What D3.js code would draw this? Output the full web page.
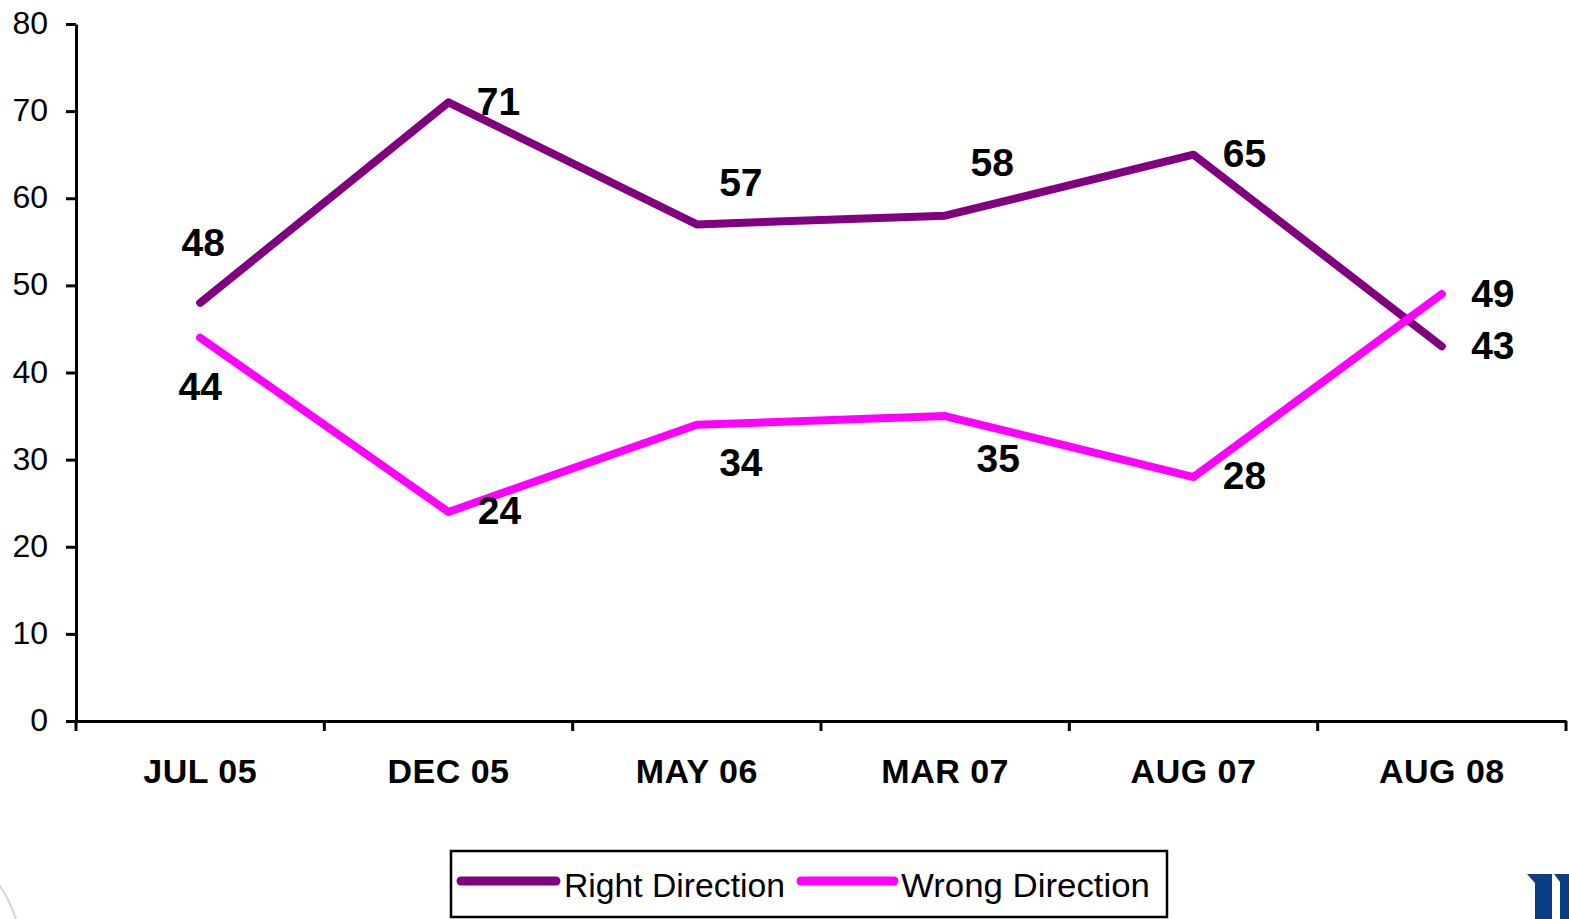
<!DOCTYPE html>
<html>
<head>
<meta charset="utf-8">
<script src="https://cdn.jsdelivr.net/npm/d3@7"></script>
<style>
  html, body { margin: 0; padding: 0; background: #fff; }
  svg { display: block; font-family: Arial, "Liberation Sans", sans-serif; }
</style>
</head>
<body>
<svg id="chart" width="1569" height="919"></svg>
<script>
// ---- Data ----
const categories = ["JUL 05", "DEC 05", "MAY 06", "MAR 07", "AUG 07", "AUG 08"];
const rightDirection = [48, 71, 57, 58, 65, 43];
const wrongDirection = [44, 24, 34, 35, 28, 49];
const yTicks = [0, 10, 20, 30, 40, 50, 60, 70, 80];
const seriesNames = ["Right Direction", "Wrong Direction"];

// label offsets (layout only) relative to each point, label centre
const rightLabelOffsets = [[3, -61], [50, -1], [44, -42], [47, -54], [51, -2], [51, -1]];
const wrongLabelOffsets = [[0, 48], [51, -2], [44, 37], [53, 42], [51, -2], [51, -1]];

const colors = ["#800080", "#FF00FF"];

(function () {
const svg = d3.select("#chart");
const pLeft = 76, pRight = 1566, pTop = 24, pBottom = 721;

const x = d3.scaleBand().domain(categories).range([pLeft, pRight]).padding(0);
const y = d3.scaleLinear().domain([0, 80]).range([pBottom, pTop]);
const cx = d => x(d) + x.bandwidth() / 2;

// ---- Y axis ----
const yAxis = svg.append("g").attr("transform", `translate(${pLeft},0)`)
  .call(d3.axisLeft(y).tickValues(yTicks).tickSize(10).tickSizeOuter(0).tickPadding(18));
yAxis.select(".domain").attr("stroke", "#000").attr("stroke-width", 3);
yAxis.selectAll(".tick line").attr("stroke", "#000").attr("stroke-width", 3);
yAxis.selectAll(".tick text").attr("font-size", 32).attr("fill", "#000")
  .attr("font-family", "Arial, 'Liberation Sans', sans-serif")
  .attr("dy", "0.3em");

// ---- X axis ----
const xAxis = svg.append("g").attr("transform", `translate(0,${pBottom})`)
  .call(d3.axisBottom(x).tickSize(0).tickSizeOuter(0).tickPadding(38));
xAxis.select(".domain").attr("stroke", "#000").attr("stroke-width", 3);
xAxis.selectAll(".tick text").attr("font-size", 34).attr("font-weight", "bold").attr("fill", "#000")
  .attr("letter-spacing", 0.5)
  .attr("font-family", "Arial, 'Liberation Sans', sans-serif");
// boundary ticks at band edges
const edges = categories.map(c => x(c)).concat([x(categories[categories.length - 1]) + x.bandwidth()]);
svg.append("g").selectAll("line").data(edges).join("line")
  .attr("x1", d => d).attr("x2", d => d)
  .attr("y1", pBottom).attr("y2", pBottom + 10)
  .attr("stroke", "#000").attr("stroke-width", 3);

// ---- Lines ----
const line = d3.line().x((d, i) => cx(categories[i])).y(d => y(d));
[rightDirection, wrongDirection].forEach((s, k) => {
  svg.append("path").datum(s)
    .attr("d", line)
    .attr("fill", "none")
    .attr("stroke", colors[k])
    .attr("stroke-width", 8)
    .attr("stroke-linejoin", "round")
    .attr("stroke-linecap", "round");
});

// ---- Data labels ----
function labels(series, offsets) {
  svg.append("g").selectAll("text").data(series).join("text")
    .attr("x", (d, i) => cx(categories[i]) + offsets[i][0])
    .attr("y", (d, i) => y(d) + offsets[i][1] + 14)
    .attr("text-anchor", "middle")
    .attr("font-size", 39)
    .attr("font-weight", "bold")
    .attr("fill", "#000")
    .text(d => d);
}
labels(rightDirection, rightLabelOffsets);
labels(wrongDirection, wrongLabelOffsets);

// ---- Legend ----
const lg = svg.append("g");
lg.append("rect").attr("x", 451).attr("y", 851).attr("width", 716).attr("height", 66)
  .attr("fill", "#fff").attr("stroke", "#000").attr("stroke-width", 2.5);
const legendItems = [
  { name: seriesNames[0], x1: 461, x2: 556, tx: 564, w: 221 },
  { name: seriesNames[1], x1: 801, x2: 894, tx: 901, w: 249 }
];
legendItems.forEach((it, k) => {
  lg.append("line").attr("x1", it.x1).attr("x2", it.x2).attr("y1", 881).attr("y2", 881)
    .attr("stroke", colors[k]).attr("stroke-width", 9).attr("stroke-linecap", "round");
  lg.append("text").attr("x", it.tx).attr("y", 897).attr("font-size", 34).attr("fill", "#000")
    .attr("textLength", it.w).attr("lengthAdjust", "spacingAndGlyphs")
    .text(it.name);
});

// ---- Decorative slide elements ----
svg.append("path").attr("d", "M -6 878 Q 8 895 16 919")
  .attr("fill", "none").attr("stroke", "#d4d4d4").attr("stroke-width", 2);
svg.append("polygon").attr("points", "1527,874 1552,874 1552,919 1535,919 1535,883")
  .attr("fill", "#0b3d84");
svg.append("polygon").attr("points", "1554,874 1569,874 1569,919 1560,919 1560,882")
  .attr("fill", "#0b3d84");
})();
</script>
</body>
</html>
